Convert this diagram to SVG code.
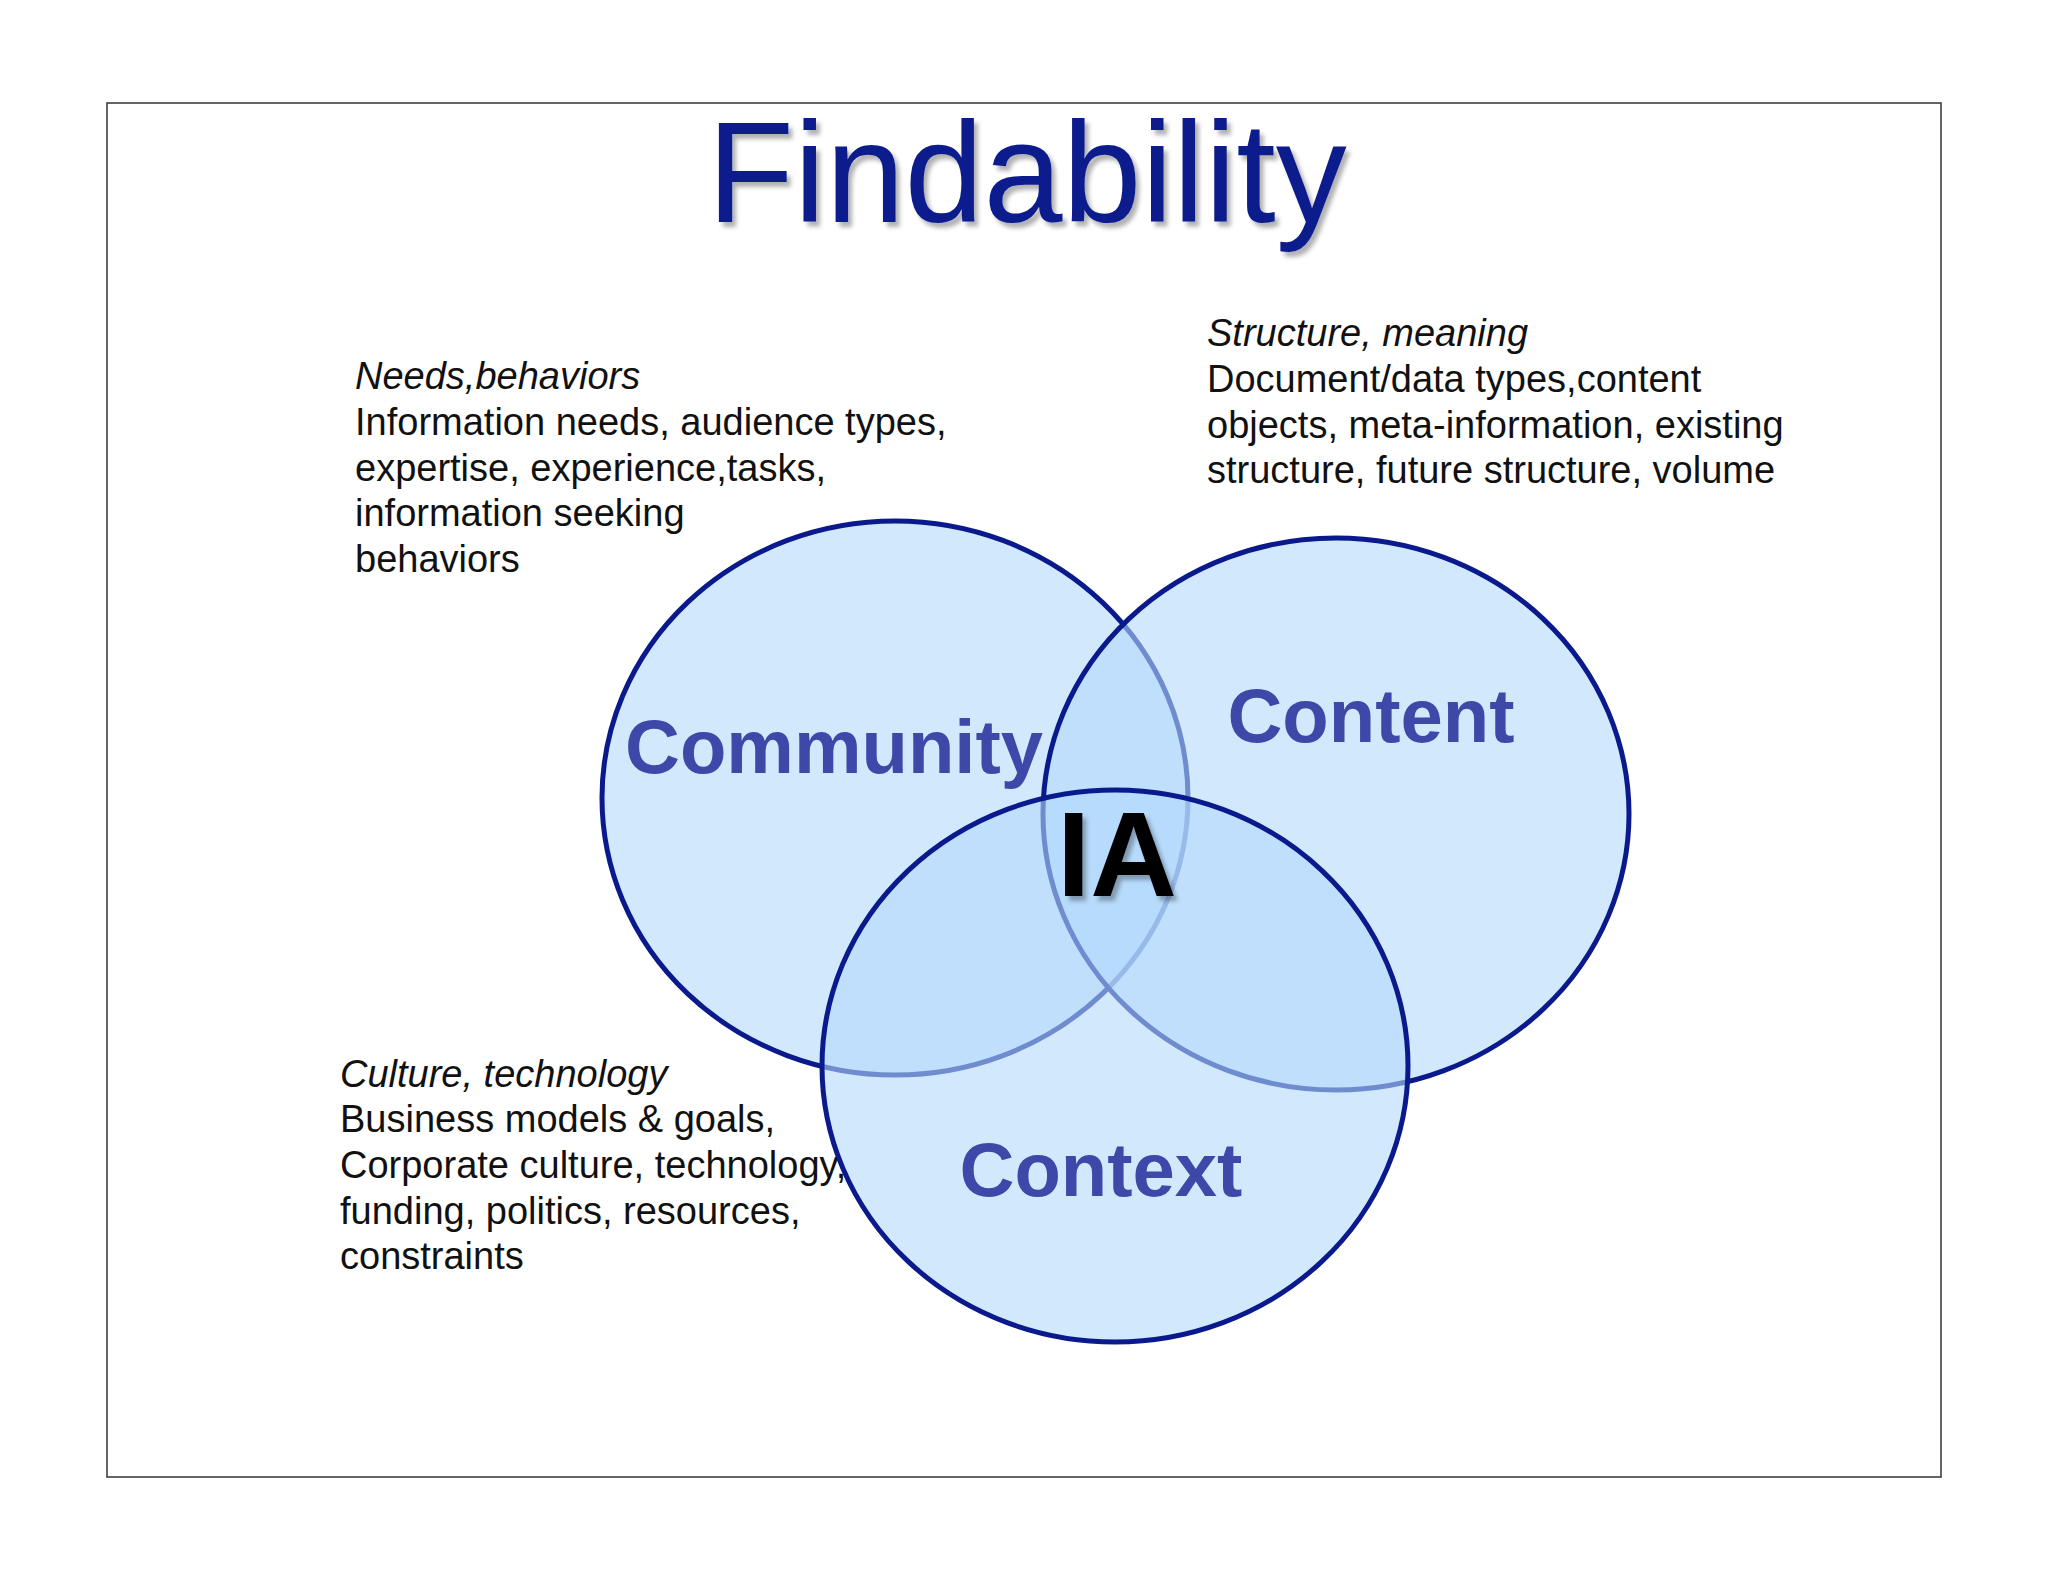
<svg xmlns="http://www.w3.org/2000/svg" width="2048" height="1582" viewBox="0 0 2048 1582">
<defs>
<filter id="sh" x="-10%" y="-10%" width="130%" height="140%"><feDropShadow dx="4" dy="5" stdDeviation="2" flood-color="#000" flood-opacity="0.3"/></filter>
</defs>
<style>
.d{font-family:"Liberation Sans",Arial,sans-serif;font-size:38px;fill:#111}
.i{font-style:italic}
.c{fill:#b3d8fb;fill-opacity:0.6;stroke:#0a1a8c;stroke-width:5}
.l{font-family:"Liberation Sans",Arial,sans-serif;font-weight:bold;font-size:76px;fill:#3d48a8;text-anchor:middle}
</style>
<rect x="0" y="0" width="2048" height="1582" fill="#fff"/>
<rect x="107" y="103" width="1834" height="1374" fill="#fff" stroke="#333" stroke-width="1.5"/>
<g id="title"><text x="1027" y="222" text-anchor="middle" font-family="Liberation Sans,Arial,sans-serif" font-size="142" fill="#0a1a8c" filter="url(#sh)">Findability</text></g>
<g id="needs" class="d">
<text x="355" y="389" class="d i">Needs,behaviors</text>
<text x="355" y="435" class="d">Information needs, audience types,</text>
<text x="355" y="481" class="d">expertise, experience,tasks,</text>
<text x="355" y="526" class="d">information seeking</text>
<text x="355" y="572" class="d">behaviors</text>
</g>
<g id="structure">
<text x="1207" y="346" class="d i">Structure, meaning</text>
<text x="1207" y="392" class="d">Document/data types,content</text>
<text x="1207" y="438" class="d">objects, meta-information, existing</text>
<text x="1207" y="483" class="d">structure, future structure, volume</text>
</g>
<g id="culture">
<text x="340" y="1087" class="d i">Culture, technology</text>
<text x="340" y="1132" class="d">Business models &amp; goals,</text>
<text x="340" y="1178" class="d">Corporate culture, technology,</text>
<text x="340" y="1224" class="d">funding, politics, resources,</text>
<text x="340" y="1269" class="d">constraints</text>
</g>
<g id="community"><ellipse class="c" cx="895" cy="798" rx="293" ry="277"/></g>
<g id="content"><ellipse class="c" cx="1336" cy="814" rx="293" ry="276"/></g>
<g id="context"><ellipse class="c" cx="1115" cy="1066" rx="293" ry="276"/></g>
<g id="labels">
<text x="834" y="773" class="l">Community</text>
<text x="1371" y="742" class="l">Content</text>
<text x="1101" y="1196" class="l">Context</text>
<text x="1117" y="896" font-family="Liberation Sans,Arial,sans-serif" font-weight="bold" font-size="120" text-anchor="middle" fill="#000" filter="url(#sh)">IA</text>
</g>
</svg>
